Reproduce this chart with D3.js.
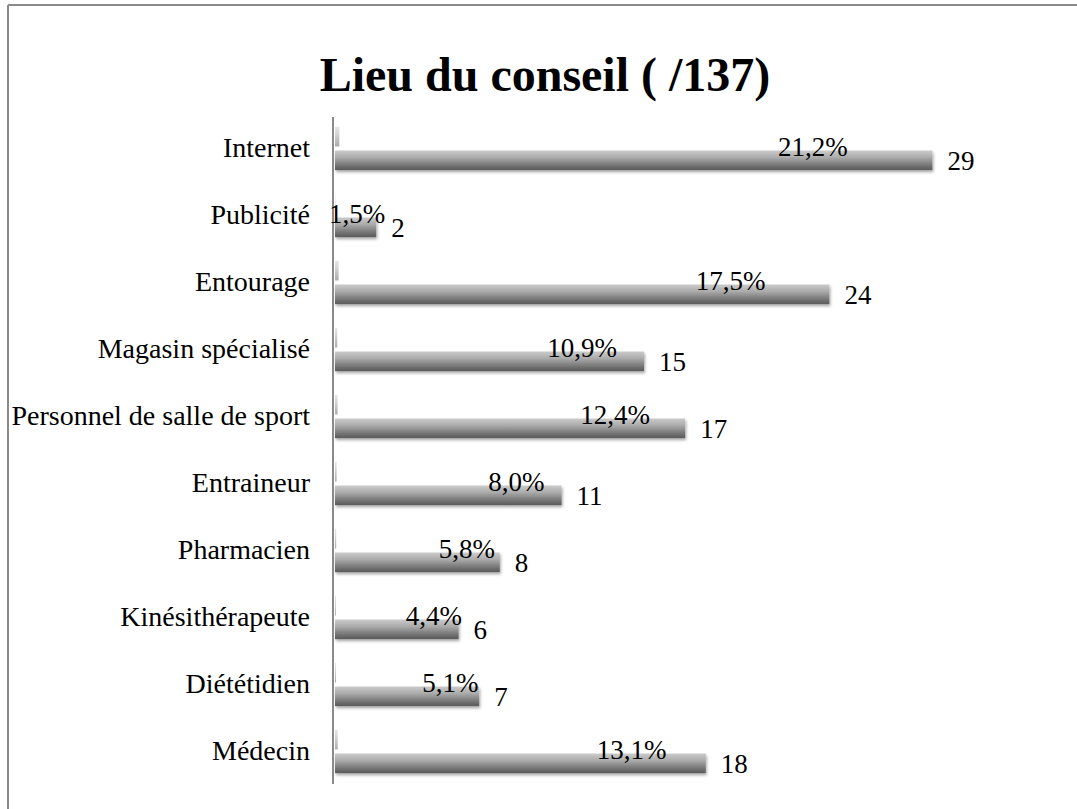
<!DOCTYPE html>
<html>
<head>
<meta charset="utf-8">
<script src="https://cdn.jsdelivr.net/npm/d3@7"></script>
<style>
  body { margin: 0; background: #fff; }
  svg { display: block; }
  text { font-family: "Liberation Serif", "Times New Roman", serif; fill: #000; }
</style>
</head>
<body>
<div id="chart"></div>
<script>
// data
const categories = ["Internet", "Publicité", "Entourage", "Magasin spécialisé", "Personnel de salle de sport",
    "Entraineur", "Pharmacien", "Kinésithérapeute", "Diététidien", "Médecin"];
const counts = [29, 2, 24, 15, 17, 11, 8, 6, 7, 18];
const percents = [0.212, 0.015, 0.175, 0.109, 0.124, 0.080, 0.058, 0.044, 0.051, 0.131];
const percentLabels = ["21,2%", "1,5%", "17,5%", "10,9%", "12,4%", "8,0%", "5,8%", "4,4%", "5,1%", "13,1%"];
const chartTitle = "Lieu du conseil ( /137)";

const width = 1077, height = 809;

const svg = d3.select("#chart").append("svg")
    .attr("width", width)
    .attr("height", height);

// frame (only top and left edges are visible)
svg.append("line").attr("x1", 8).attr("y1", 5).attr("x2", width).attr("y2", 5)
    .attr("stroke", "#8a8a8a").attr("stroke-width", 2);
svg.append("line").attr("x1", 8).attr("y1", 5).attr("x2", 8).attr("y2", height)
    .attr("stroke", "#8a8a8a").attr("stroke-width", 2);

const defs = svg.append("defs");
const grad = defs.append("linearGradient")
    .attr("id", "barGrad").attr("x1", 0).attr("y1", 0).attr("x2", 0).attr("y2", 1);
grad.append("stop").attr("offset", "0%").attr("stop-color", "#cbcbcb");
grad.append("stop").attr("offset", "35%").attr("stop-color", "#ababab");
grad.append("stop").attr("offset", "80%").attr("stop-color", "#6f6f6f");
grad.append("stop").attr("offset", "100%").attr("stop-color", "#5a5a5a");

const shadow = defs.append("filter").attr("id", "shadow")
    .attr("x", "-5%").attr("y", "-20%").attr("width", "115%").attr("height", "160%");
shadow.append("feGaussianBlur").attr("in", "SourceAlpha").attr("stdDeviation", 1.5);
shadow.append("feOffset").attr("dx", 1).attr("dy", 2).attr("result", "off");
shadow.append("feComponentTransfer").append("feFuncA").attr("type", "linear").attr("slope", 0.35);
const merge = shadow.append("feMerge");
merge.append("feMergeNode");
merge.append("feMergeNode").attr("in", "SourceGraphic");

const x = d3.scaleLinear().domain([0, 35]).range([335, 1056]);
const y = d3.scaleBand().domain(categories).range([115, 785]);
const sub = d3.scaleBand().domain(["pct", "count"]).range([0, y.step()])
    .paddingInner(0.17).paddingOuter(0.5);

// title
svg.append("text")
    .attr("x", 545).attr("y", 91)
    .attr("text-anchor", "middle")
    .style("font-size", "48px").style("font-weight", "bold")
    .text(chartTitle);

// category axis
svg.append("line")
    .attr("x1", 333).attr("x2", 333)
    .attr("y1", 117).attr("y2", 784)
    .attr("stroke", "#8a8a8a").attr("stroke-width", 2);

const yAxis = svg.append("g")
    .attr("transform", "translate(326,0)")
    .call(d3.axisLeft(y).tickSize(0).tickPadding(16));
yAxis.select(".domain").remove();
yAxis.selectAll("text")
    .style("font-family", "'Liberation Serif', 'Times New Roman', serif")
    .style("font-size", "28px")
    .attr("dy", "0.3em")
    .attr("fill", "#000");

const rows = svg.selectAll("g.row")
    .data(categories)
    .join("g")
    .attr("class", "row")
    .attr("transform", d => `translate(0,${y(d)})`);

// percentage series (tiny bars at the axis)
rows.append("rect")
    .attr("x", x(0))
    .attr("y", sub("pct"))
    .attr("width", (d, i) => Math.max(0, x(percents[i]) - x(0)))
    .attr("height", sub.bandwidth())
    .attr("fill", "url(#barGrad)")
    .attr("opacity", 0.5);

// count series
rows.append("rect")
    .attr("x", x(0))
    .attr("y", sub("count"))
    .attr("width", (d, i) => x(counts[i]) - x(0))
    .attr("height", sub.bandwidth())
    .attr("fill", "url(#barGrad)")
    .attr("filter", "url(#shadow)");

// count labels
rows.append("text")
    .attr("x", (d, i) => x(counts[i]) + 15)
    .attr("y", sub("count") + sub.bandwidth() / 2 + 1)
    .attr("dominant-baseline", "central")
    .style("font-size", "27px")
    .text((d, i) => counts[i]);

// percentage labels, sitting above the count bar
rows.append("text")
    .attr("x", (d, i) => Math.min(x(counts[i] * 0.8), x(counts[i]) - 19))
    .attr("y", sub("count") - 4)
    .attr("text-anchor", "middle")
    .attr("dominant-baseline", "central")
    .style("font-size", "27px")
    .text((d, i) => percentLabels[i]);
</script>
</body>
</html>
